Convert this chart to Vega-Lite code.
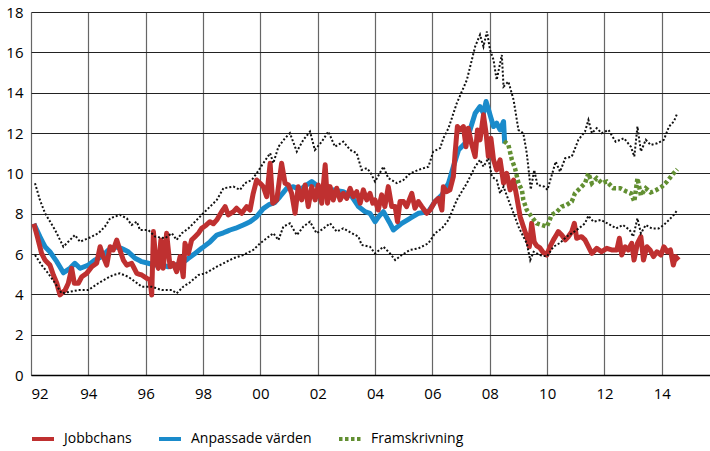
{
  "$schema": "https://vega.github.io/schema/vega-lite/v6.json",
  "width": 679,
  "height": 363,
  "autosize": {"type": "none"},
  "padding": {"left": 31, "top": 12, "right": 0, "bottom": 76},
  "datasets": {
    "series": [
      {"s":"Anpassade värden","t":1992.1,"v":7.5},{"s":"Anpassade värden","t":1992.2,"v":7.2},{"s":"Anpassade värden","t":1992.31,"v":6.86},{"s":"Anpassade värden","t":1992.49,"v":6.36},{"s":"Anpassade värden","t":1992.66,"v":6.11},{"s":"Anpassade värden","t":1992.9,"v":5.62},{"s":"Anpassade värden","t":1993.13,"v":5.07},{"s":"Anpassade värden","t":1993.36,"v":5.29},{"s":"Anpassade värden","t":1993.53,"v":5.54},{"s":"Anpassade värden","t":1993.71,"v":5.29},{"s":"Anpassade värden","t":1994.0,"v":5.45},{"s":"Anpassade värden","t":1994.23,"v":5.7},{"s":"Anpassade värden","t":1994.47,"v":5.87},{"s":"Anpassade värden","t":1994.7,"v":6.2},{"s":"Anpassade värden","t":1994.93,"v":6.36},{"s":"Anpassade värden","t":1995.16,"v":6.28},{"s":"Anpassade värden","t":1995.39,"v":6.11},{"s":"Anpassade värden","t":1995.63,"v":5.79},{"s":"Anpassade värden","t":1995.86,"v":5.62},{"s":"Anpassade värden","t":1996.09,"v":5.54},{"s":"Anpassade värden","t":1996.33,"v":5.45},{"s":"Anpassade värden","t":1996.56,"v":5.45},{"s":"Anpassade värden","t":1996.79,"v":5.37},{"s":"Anpassade värden","t":1997.02,"v":5.45},{"s":"Anpassade värden","t":1997.26,"v":5.54},{"s":"Anpassade värden","t":1997.49,"v":5.79},{"s":"Anpassade värden","t":1997.72,"v":6.03},{"s":"Anpassade värden","t":1997.95,"v":6.28},{"s":"Anpassade värden","t":1998.24,"v":6.6},{"s":"Anpassade värden","t":1998.48,"v":6.94},{"s":"Anpassade värden","t":1998.71,"v":7.05},{"s":"Anpassade värden","t":1998.94,"v":7.19},{"s":"Anpassade värden","t":1999.17,"v":7.3},{"s":"Anpassade värden","t":1999.4,"v":7.44},{"s":"Anpassade värden","t":1999.64,"v":7.6},{"s":"Anpassade värden","t":1999.87,"v":7.85},{"s":"Anpassade värden","t":2000.1,"v":8.25},{"s":"Anpassade värden","t":2000.3,"v":8.45},{"s":"Anpassade värden","t":2000.5,"v":8.55},{"s":"Anpassade värden","t":2000.68,"v":8.84},{"s":"Anpassade värden","t":2000.92,"v":9.26},{"s":"Anpassade värden","t":2001.15,"v":9.34},{"s":"Anpassade värden","t":2001.38,"v":9.18},{"s":"Anpassade värden","t":2001.61,"v":9.42},{"s":"Anpassade värden","t":2001.79,"v":9.59},{"s":"Anpassade värden","t":2002.02,"v":9.34},{"s":"Anpassade värden","t":2002.31,"v":9.01},{"s":"Anpassade värden","t":2002.54,"v":9.18},{"s":"Anpassade värden","t":2002.89,"v":9.09},{"s":"Anpassade värden","t":2003.19,"v":8.84},{"s":"Anpassade värden","t":2003.42,"v":8.35},{"s":"Anpassade värden","t":2003.65,"v":8.1},{"s":"Anpassade värden","t":2003.82,"v":8.02},{"s":"Anpassade värden","t":2004.0,"v":7.6},{"s":"Anpassade värden","t":2004.15,"v":7.9},{"s":"Anpassade värden","t":2004.29,"v":8.1},{"s":"Anpassade värden","t":2004.52,"v":7.52},{"s":"Anpassade värden","t":2004.64,"v":7.19},{"s":"Anpassade värden","t":2004.93,"v":7.52},{"s":"Anpassade värden","t":2005.22,"v":7.77},{"s":"Anpassade värden","t":2005.51,"v":8.02},{"s":"Anpassade värden","t":2005.86,"v":8.1},{"s":"Anpassade värden","t":2006.09,"v":8.6},{"s":"Anpassade värden","t":2006.33,"v":8.93},{"s":"Anpassade värden","t":2006.56,"v":9.51},{"s":"Anpassade värden","t":2006.73,"v":10.33},{"s":"Anpassade värden","t":2006.91,"v":11.16},{"s":"Anpassade värden","t":2007.14,"v":11.49},{"s":"Anpassade värden","t":2007.31,"v":12.15},{"s":"Anpassade värden","t":2007.49,"v":12.98},{"s":"Anpassade värden","t":2007.66,"v":13.31},{"s":"Anpassade värden","t":2007.78,"v":12.98},{"s":"Anpassade värden","t":2007.87,"v":13.56},{"s":"Anpassade värden","t":2008.01,"v":12.9},{"s":"Anpassade värden","t":2008.13,"v":12.32},{"s":"Anpassade värden","t":2008.24,"v":12.49},{"s":"Anpassade värden","t":2008.36,"v":12.15},{"s":"Anpassade värden","t":2008.48,"v":12.57},{"s":"Anpassade värden","t":2008.52,"v":11.49},
      {"s":"Jobbchans","t":1992.1,"v":7.5},{"s":"Jobbchans","t":1992.25,"v":6.7},{"s":"Jobbchans","t":1992.37,"v":6.03},{"s":"Jobbchans","t":1992.49,"v":5.7},{"s":"Jobbchans","t":1992.66,"v":5.45},{"s":"Jobbchans","t":1992.78,"v":4.96},{"s":"Jobbchans","t":1992.9,"v":4.55},{"s":"Jobbchans","t":1993.01,"v":3.97},{"s":"Jobbchans","t":1993.19,"v":4.21},{"s":"Jobbchans","t":1993.3,"v":4.55},{"s":"Jobbchans","t":1993.42,"v":5.29},{"s":"Jobbchans","t":1993.51,"v":4.55},{"s":"Jobbchans","t":1993.65,"v":4.55},{"s":"Jobbchans","t":1993.77,"v":4.87},{"s":"Jobbchans","t":1993.94,"v":5.04},{"s":"Jobbchans","t":1994.12,"v":5.37},{"s":"Jobbchans","t":1994.29,"v":5.54},{"s":"Jobbchans","t":1994.41,"v":6.36},{"s":"Jobbchans","t":1994.52,"v":5.87},{"s":"Jobbchans","t":1994.64,"v":5.45},{"s":"Jobbchans","t":1994.76,"v":6.36},{"s":"Jobbchans","t":1994.87,"v":6.2},{"s":"Jobbchans","t":1994.99,"v":6.69},{"s":"Jobbchans","t":1995.1,"v":6.2},{"s":"Jobbchans","t":1995.22,"v":5.7},{"s":"Jobbchans","t":1995.34,"v":5.45},{"s":"Jobbchans","t":1995.51,"v":5.54},{"s":"Jobbchans","t":1995.69,"v":5.04},{"s":"Jobbchans","t":1995.86,"v":4.96},{"s":"Jobbchans","t":1996.04,"v":4.79},{"s":"Jobbchans","t":1996.15,"v":4.71},{"s":"Jobbchans","t":1996.21,"v":3.97},{"s":"Jobbchans","t":1996.27,"v":7.11},{"s":"Jobbchans","t":1996.35,"v":5.7},{"s":"Jobbchans","t":1996.44,"v":5.29},{"s":"Jobbchans","t":1996.53,"v":6.69},{"s":"Jobbchans","t":1996.61,"v":5.29},{"s":"Jobbchans","t":1996.73,"v":7.03},{"s":"Jobbchans","t":1996.85,"v":5.37},{"s":"Jobbchans","t":1996.96,"v":5.54},{"s":"Jobbchans","t":1997.08,"v":5.12},{"s":"Jobbchans","t":1997.2,"v":5.87},{"s":"Jobbchans","t":1997.31,"v":4.87},{"s":"Jobbchans","t":1997.37,"v":6.53},{"s":"Jobbchans","t":1997.49,"v":6.03},{"s":"Jobbchans","t":1997.6,"v":6.69},{"s":"Jobbchans","t":1997.72,"v":6.86},{"s":"Jobbchans","t":1997.84,"v":7.03},{"s":"Jobbchans","t":1997.95,"v":7.27},{"s":"Jobbchans","t":1998.08,"v":7.4},{"s":"Jobbchans","t":1998.24,"v":7.6},{"s":"Jobbchans","t":1998.36,"v":7.5},{"s":"Jobbchans","t":1998.48,"v":7.69},{"s":"Jobbchans","t":1998.65,"v":8.1},{"s":"Jobbchans","t":1998.77,"v":8.35},{"s":"Jobbchans","t":1998.88,"v":7.94},{"s":"Jobbchans","t":1999.06,"v":8.1},{"s":"Jobbchans","t":1999.17,"v":8.27},{"s":"Jobbchans","t":1999.35,"v":8.02},{"s":"Jobbchans","t":1999.52,"v":8.35},{"s":"Jobbchans","t":1999.64,"v":8.18},{"s":"Jobbchans","t":1999.75,"v":9.01},{"s":"Jobbchans","t":1999.87,"v":9.67},{"s":"Jobbchans","t":1999.99,"v":9.51},{"s":"Jobbchans","t":2000.1,"v":9.34},{"s":"Jobbchans","t":2000.22,"v":8.84},{"s":"Jobbchans","t":2000.34,"v":10.5},{"s":"Jobbchans","t":2000.43,"v":8.52},{"s":"Jobbchans","t":2000.57,"v":8.68},{"s":"Jobbchans","t":2000.74,"v":10.5},{"s":"Jobbchans","t":2000.86,"v":9.51},{"s":"Jobbchans","t":2000.98,"v":9.42},{"s":"Jobbchans","t":2001.09,"v":9.01},{"s":"Jobbchans","t":2001.21,"v":8.02},{"s":"Jobbchans","t":2001.32,"v":9.34},{"s":"Jobbchans","t":2001.44,"v":8.68},{"s":"Jobbchans","t":2001.56,"v":9.42},{"s":"Jobbchans","t":2001.67,"v":8.35},{"s":"Jobbchans","t":2001.79,"v":9.34},{"s":"Jobbchans","t":2001.91,"v":8.68},{"s":"Jobbchans","t":2002.02,"v":9.42},{"s":"Jobbchans","t":2002.14,"v":8.52},{"s":"Jobbchans","t":2002.26,"v":10.42},{"s":"Jobbchans","t":2002.34,"v":8.52},{"s":"Jobbchans","t":2002.43,"v":9.34},{"s":"Jobbchans","t":2002.54,"v":8.68},{"s":"Jobbchans","t":2002.66,"v":9.26},{"s":"Jobbchans","t":2002.78,"v":8.68},{"s":"Jobbchans","t":2002.89,"v":9.01},{"s":"Jobbchans","t":2003.01,"v":8.76},{"s":"Jobbchans","t":2003.13,"v":9.26},{"s":"Jobbchans","t":2003.24,"v":8.84},{"s":"Jobbchans","t":2003.36,"v":9.09},{"s":"Jobbchans","t":2003.48,"v":8.52},{"s":"Jobbchans","t":2003.59,"v":9.18},{"s":"Jobbchans","t":2003.71,"v":8.68},{"s":"Jobbchans","t":2003.82,"v":9.01},{"s":"Jobbchans","t":2003.92,"v":8.52},{"s":"Jobbchans","t":2004.0,"v":8.68},{"s":"Jobbchans","t":2004.11,"v":8.18},{"s":"Jobbchans","t":2004.23,"v":8.93},{"s":"Jobbchans","t":2004.34,"v":8.35},{"s":"Jobbchans","t":2004.46,"v":9.34},{"s":"Jobbchans","t":2004.58,"v":8.35},{"s":"Jobbchans","t":2004.7,"v":8.35},{"s":"Jobbchans","t":2004.78,"v":7.6},{"s":"Jobbchans","t":2004.87,"v":8.6},{"s":"Jobbchans","t":2004.99,"v":8.6},{"s":"Jobbchans","t":2005.1,"v":8.35},{"s":"Jobbchans","t":2005.28,"v":9.01},{"s":"Jobbchans","t":2005.39,"v":8.27},{"s":"Jobbchans","t":2005.51,"v":8.6},{"s":"Jobbchans","t":2005.63,"v":8.35},{"s":"Jobbchans","t":2005.8,"v":8.02},{"s":"Jobbchans","t":2005.92,"v":8.18},{"s":"Jobbchans","t":2006.09,"v":8.6},{"s":"Jobbchans","t":2006.21,"v":8.76},{"s":"Jobbchans","t":2006.33,"v":8.18},{"s":"Jobbchans","t":2006.38,"v":9.34},{"s":"Jobbchans","t":2006.5,"v":9.09},{"s":"Jobbchans","t":2006.61,"v":9.18},{"s":"Jobbchans","t":2006.73,"v":9.84},{"s":"Jobbchans","t":2006.79,"v":11.0},{"s":"Jobbchans","t":2006.87,"v":12.32},{"s":"Jobbchans","t":2006.96,"v":12.15},{"s":"Jobbchans","t":2007.08,"v":12.32},{"s":"Jobbchans","t":2007.17,"v":11.32},{"s":"Jobbchans","t":2007.25,"v":12.24},{"s":"Jobbchans","t":2007.36,"v":11.49},{"s":"Jobbchans","t":2007.49,"v":10.83},{"s":"Jobbchans","t":2007.57,"v":12.15},{"s":"Jobbchans","t":2007.66,"v":11.66},{"s":"Jobbchans","t":2007.78,"v":12.9},{"s":"Jobbchans","t":2007.87,"v":11.99},{"s":"Jobbchans","t":2007.95,"v":10.83},{"s":"Jobbchans","t":2008.04,"v":11.74},{"s":"Jobbchans","t":2008.13,"v":10.67},{"s":"Jobbchans","t":2008.24,"v":10.17},{"s":"Jobbchans","t":2008.36,"v":10.67},{"s":"Jobbchans","t":2008.48,"v":9.51},{"s":"Jobbchans","t":2008.59,"v":10.0},{"s":"Jobbchans","t":2008.71,"v":9.18},{"s":"Jobbchans","t":2008.83,"v":9.67},{"s":"Jobbchans","t":2008.94,"v":8.84},{"s":"Jobbchans","t":2009.06,"v":7.85},{"s":"Jobbchans","t":2009.17,"v":7.36},{"s":"Jobbchans","t":2009.29,"v":6.86},{"s":"Jobbchans","t":2009.38,"v":6.36},{"s":"Jobbchans","t":2009.46,"v":7.52},{"s":"Jobbchans","t":2009.55,"v":6.6},{"s":"Jobbchans","t":2009.64,"v":6.4},{"s":"Jobbchans","t":2009.75,"v":6.3},{"s":"Jobbchans","t":2009.85,"v":6.1},{"s":"Jobbchans","t":2009.99,"v":5.95},{"s":"Jobbchans","t":2010.1,"v":6.36},{"s":"Jobbchans","t":2010.22,"v":6.7},{"s":"Jobbchans","t":2010.39,"v":7.11},{"s":"Jobbchans","t":2010.51,"v":6.94},{"s":"Jobbchans","t":2010.63,"v":6.7},{"s":"Jobbchans","t":2010.74,"v":6.86},{"s":"Jobbchans","t":2010.86,"v":7.11},{"s":"Jobbchans","t":2010.95,"v":7.52},{"s":"Jobbchans","t":2011.03,"v":6.78},{"s":"Jobbchans","t":2011.2,"v":6.86},{"s":"Jobbchans","t":2011.32,"v":6.7},{"s":"Jobbchans","t":2011.44,"v":6.36},{"s":"Jobbchans","t":2011.56,"v":6.03},{"s":"Jobbchans","t":2011.73,"v":6.28},{"s":"Jobbchans","t":2011.9,"v":6.11},{"s":"Jobbchans","t":2012.08,"v":6.28},{"s":"Jobbchans","t":2012.25,"v":6.2},{"s":"Jobbchans","t":2012.43,"v":6.2},{"s":"Jobbchans","t":2012.52,"v":6.78},{"s":"Jobbchans","t":2012.6,"v":5.95},{"s":"Jobbchans","t":2012.72,"v":6.36},{"s":"Jobbchans","t":2012.83,"v":6.2},{"s":"Jobbchans","t":2012.95,"v":6.53},{"s":"Jobbchans","t":2013.03,"v":5.7},{"s":"Jobbchans","t":2013.15,"v":6.53},{"s":"Jobbchans","t":2013.27,"v":6.86},{"s":"Jobbchans","t":2013.36,"v":5.7},{"s":"Jobbchans","t":2013.48,"v":6.36},{"s":"Jobbchans","t":2013.59,"v":6.2},{"s":"Jobbchans","t":2013.71,"v":5.87},{"s":"Jobbchans","t":2013.83,"v":6.11},{"s":"Jobbchans","t":2013.97,"v":5.95},{"s":"Jobbchans","t":2014.07,"v":6.36},{"s":"Jobbchans","t":2014.19,"v":6.11},{"s":"Jobbchans","t":2014.3,"v":6.2},{"s":"Jobbchans","t":2014.4,"v":5.45},{"s":"Jobbchans","t":2014.48,"v":5.87},{"s":"Jobbchans","t":2014.59,"v":5.7},
      {"s":"Framskrivning","t":2008.5,"v":11.6},{"s":"Framskrivning","t":2008.65,"v":11.41},{"s":"Framskrivning","t":2008.77,"v":10.67},{"s":"Framskrivning","t":2008.88,"v":10.25},{"s":"Framskrivning","t":2009.0,"v":9.51},{"s":"Framskrivning","t":2009.12,"v":9.18},{"s":"Framskrivning","t":2009.17,"v":8.68},{"s":"Framskrivning","t":2009.29,"v":8.18},{"s":"Framskrivning","t":2009.46,"v":7.85},{"s":"Framskrivning","t":2009.64,"v":7.52},{"s":"Framskrivning","t":2009.81,"v":7.44},{"s":"Framskrivning","t":2009.99,"v":7.36},{"s":"Framskrivning","t":2010.16,"v":7.94},{"s":"Framskrivning","t":2010.34,"v":8.1},{"s":"Framskrivning","t":2010.51,"v":8.35},{"s":"Framskrivning","t":2010.68,"v":8.43},{"s":"Framskrivning","t":2010.86,"v":8.6},{"s":"Framskrivning","t":2010.97,"v":9.01},{"s":"Framskrivning","t":2011.15,"v":9.26},{"s":"Framskrivning","t":2011.32,"v":9.51},{"s":"Framskrivning","t":2011.44,"v":10.0},{"s":"Framskrivning","t":2011.56,"v":9.51},{"s":"Framskrivning","t":2011.73,"v":9.76},{"s":"Framskrivning","t":2011.91,"v":9.51},{"s":"Framskrivning","t":2012.08,"v":9.59},{"s":"Framskrivning","t":2012.31,"v":9.26},{"s":"Framskrivning","t":2012.55,"v":9.26},{"s":"Framskrivning","t":2012.78,"v":9.09},{"s":"Framskrivning","t":2012.92,"v":9.01},{"s":"Framskrivning","t":2013.04,"v":8.6},{"s":"Framskrivning","t":2013.15,"v":9.76},{"s":"Framskrivning","t":2013.27,"v":8.9},{"s":"Framskrivning","t":2013.44,"v":9.26},{"s":"Framskrivning","t":2013.61,"v":9.05},{"s":"Framskrivning","t":2013.78,"v":9.15},{"s":"Framskrivning","t":2014.0,"v":9.34},{"s":"Framskrivning","t":2014.18,"v":9.59},{"s":"Framskrivning","t":2014.36,"v":9.92},{"s":"Framskrivning","t":2014.54,"v":10.2}
    ],
    "band": [
      {"b":"upper","t":1992.14,"v":9.51},{"b":"upper","t":1992.31,"v":8.68},{"b":"upper","t":1992.49,"v":8.02},{"b":"upper","t":1992.84,"v":7.19},{"b":"upper","t":1993.13,"v":6.36},{"b":"upper","t":1993.3,"v":6.61},{"b":"upper","t":1993.53,"v":6.94},{"b":"upper","t":1993.71,"v":6.61},{"b":"upper","t":1994.0,"v":6.78},{"b":"upper","t":1994.35,"v":7.03},{"b":"upper","t":1994.58,"v":7.36},{"b":"upper","t":1994.76,"v":7.77},{"b":"upper","t":1995.1,"v":7.94},{"b":"upper","t":1995.34,"v":7.77},{"b":"upper","t":1995.51,"v":7.44},{"b":"upper","t":1995.69,"v":7.6},{"b":"upper","t":1995.8,"v":7.19},{"b":"upper","t":1996.09,"v":7.19},{"b":"upper","t":1996.33,"v":6.86},{"b":"upper","t":1996.67,"v":6.78},{"b":"upper","t":1996.91,"v":7.03},{"b":"upper","t":1997.08,"v":6.7},{"b":"upper","t":1997.26,"v":7.03},{"b":"upper","t":1997.49,"v":7.27},{"b":"upper","t":1997.72,"v":7.6},{"b":"upper","t":1998.01,"v":8.02},{"b":"upper","t":1998.48,"v":8.68},{"b":"upper","t":1998.71,"v":9.26},{"b":"upper","t":1999.06,"v":9.34},{"b":"upper","t":1999.29,"v":9.18},{"b":"upper","t":1999.46,"v":9.51},{"b":"upper","t":1999.7,"v":9.67},{"b":"upper","t":1999.87,"v":10.0},{"b":"upper","t":2000.1,"v":10.5},{"b":"upper","t":2000.34,"v":11.0},{"b":"upper","t":2000.45,"v":10.5},{"b":"upper","t":2000.63,"v":11.32},{"b":"upper","t":2000.86,"v":11.74},{"b":"upper","t":2001.03,"v":11.99},{"b":"upper","t":2001.27,"v":11.08},{"b":"upper","t":2001.5,"v":11.66},{"b":"upper","t":2001.73,"v":12.07},{"b":"upper","t":2001.9,"v":11.16},{"b":"upper","t":2002.14,"v":11.57},{"b":"upper","t":2002.37,"v":12.07},{"b":"upper","t":2002.6,"v":11.32},{"b":"upper","t":2002.89,"v":11.57},{"b":"upper","t":2003.13,"v":11.16},{"b":"upper","t":2003.36,"v":11.0},{"b":"upper","t":2003.53,"v":10.17},{"b":"upper","t":2003.71,"v":10.25},{"b":"upper","t":2003.82,"v":10.08},{"b":"upper","t":2004.0,"v":9.59},{"b":"upper","t":2004.29,"v":10.33},{"b":"upper","t":2004.46,"v":9.76},{"b":"upper","t":2004.76,"v":9.51},{"b":"upper","t":2004.99,"v":9.67},{"b":"upper","t":2005.22,"v":10.0},{"b":"upper","t":2005.51,"v":10.17},{"b":"upper","t":2005.86,"v":10.33},{"b":"upper","t":2006.03,"v":11.08},{"b":"upper","t":2006.27,"v":11.25},{"b":"upper","t":2006.38,"v":11.74},{"b":"upper","t":2006.56,"v":12.24},{"b":"upper","t":2006.85,"v":13.48},{"b":"upper","t":2007.2,"v":14.63},{"b":"upper","t":2007.49,"v":16.29},{"b":"upper","t":2007.66,"v":16.87},{"b":"upper","t":2007.78,"v":16.29},{"b":"upper","t":2007.9,"v":17.03},{"b":"upper","t":2008.01,"v":16.12},{"b":"upper","t":2008.13,"v":15.63},{"b":"upper","t":2008.24,"v":14.63},{"b":"upper","t":2008.42,"v":15.87},{"b":"upper","t":2008.48,"v":14.3},{"b":"upper","t":2008.65,"v":14.55},{"b":"upper","t":2008.83,"v":13.64},{"b":"upper","t":2009.0,"v":12.15},{"b":"upper","t":2009.17,"v":11.99},{"b":"upper","t":2009.29,"v":11.0},{"b":"upper","t":2009.43,"v":9.2},{"b":"upper","t":2009.55,"v":10.17},{"b":"upper","t":2009.66,"v":9.42},{"b":"upper","t":2009.9,"v":9.34},{"b":"upper","t":2010.01,"v":9.18},{"b":"upper","t":2010.3,"v":10.58},{"b":"upper","t":2010.45,"v":10.08},{"b":"upper","t":2010.63,"v":10.75},{"b":"upper","t":2010.86,"v":10.83},{"b":"upper","t":2011.09,"v":11.66},{"b":"upper","t":2011.32,"v":12.07},{"b":"upper","t":2011.44,"v":12.65},{"b":"upper","t":2011.56,"v":11.99},{"b":"upper","t":2011.73,"v":12.24},{"b":"upper","t":2011.9,"v":11.99},{"b":"upper","t":2012.14,"v":12.15},{"b":"upper","t":2012.39,"v":11.57},{"b":"upper","t":2012.68,"v":11.74},{"b":"upper","t":2012.92,"v":11.32},{"b":"upper","t":2013.04,"v":10.83},{"b":"upper","t":2013.15,"v":12.32},{"b":"upper","t":2013.27,"v":11.08},{"b":"upper","t":2013.44,"v":11.66},{"b":"upper","t":2013.61,"v":11.41},{"b":"upper","t":2013.84,"v":11.49},{"b":"upper","t":2014.07,"v":11.66},{"b":"upper","t":2014.25,"v":12.32},{"b":"upper","t":2014.42,"v":12.57},{"b":"upper","t":2014.54,"v":12.98},
      {"b":"lower","t":1992.14,"v":5.95},{"b":"lower","t":1992.37,"v":5.45},{"b":"lower","t":1992.6,"v":5.04},{"b":"lower","t":1992.84,"v":4.55},{"b":"lower","t":1993.07,"v":4.05},{"b":"lower","t":1993.36,"v":4.13},{"b":"lower","t":1993.65,"v":4.21},{"b":"lower","t":1994.0,"v":4.21},{"b":"lower","t":1994.35,"v":4.55},{"b":"lower","t":1994.64,"v":4.79},{"b":"lower","t":1994.87,"v":4.96},{"b":"lower","t":1995.1,"v":5.04},{"b":"lower","t":1995.39,"v":4.87},{"b":"lower","t":1995.63,"v":4.63},{"b":"lower","t":1995.86,"v":4.38},{"b":"lower","t":1996.21,"v":4.38},{"b":"lower","t":1996.56,"v":4.21},{"b":"lower","t":1996.91,"v":4.21},{"b":"lower","t":1997.08,"v":4.05},{"b":"lower","t":1997.31,"v":4.38},{"b":"lower","t":1997.55,"v":4.6},{"b":"lower","t":1997.84,"v":4.96},{"b":"lower","t":1998.07,"v":5.04},{"b":"lower","t":1998.48,"v":5.37},{"b":"lower","t":1999.06,"v":5.79},{"b":"lower","t":1999.4,"v":5.95},{"b":"lower","t":1999.75,"v":6.2},{"b":"lower","t":1999.99,"v":6.53},{"b":"lower","t":2000.22,"v":6.78},{"b":"lower","t":2000.45,"v":7.03},{"b":"lower","t":2000.63,"v":6.69},{"b":"lower","t":2000.8,"v":7.36},{"b":"lower","t":2001.03,"v":7.52},{"b":"lower","t":2001.27,"v":6.94},{"b":"lower","t":2001.5,"v":7.36},{"b":"lower","t":2001.73,"v":7.6},{"b":"lower","t":2001.96,"v":7.03},{"b":"lower","t":2002.2,"v":7.27},{"b":"lower","t":2002.43,"v":7.52},{"b":"lower","t":2002.66,"v":7.11},{"b":"lower","t":2002.89,"v":7.27},{"b":"lower","t":2003.19,"v":7.03},{"b":"lower","t":2003.42,"v":6.86},{"b":"lower","t":2003.53,"v":6.45},{"b":"lower","t":2003.82,"v":6.36},{"b":"lower","t":2004.0,"v":6.03},{"b":"lower","t":2004.29,"v":6.36},{"b":"lower","t":2004.52,"v":6.03},{"b":"lower","t":2004.7,"v":5.7},{"b":"lower","t":2004.93,"v":5.95},{"b":"lower","t":2005.22,"v":6.2},{"b":"lower","t":2005.51,"v":6.28},{"b":"lower","t":2005.86,"v":6.53},{"b":"lower","t":2006.09,"v":7.03},{"b":"lower","t":2006.33,"v":7.27},{"b":"lower","t":2006.56,"v":7.69},{"b":"lower","t":2006.85,"v":8.68},{"b":"lower","t":2007.2,"v":9.51},{"b":"lower","t":2007.49,"v":10.33},{"b":"lower","t":2007.66,"v":10.67},{"b":"lower","t":2007.78,"v":10.33},{"b":"lower","t":2007.95,"v":10.75},{"b":"lower","t":2008.07,"v":9.84},{"b":"lower","t":2008.24,"v":9.67},{"b":"lower","t":2008.36,"v":9.01},{"b":"lower","t":2008.48,"v":9.34},{"b":"lower","t":2008.65,"v":8.68},{"b":"lower","t":2008.83,"v":8.02},{"b":"lower","t":2009.0,"v":7.36},{"b":"lower","t":2009.17,"v":6.86},{"b":"lower","t":2009.29,"v":6.53},{"b":"lower","t":2009.41,"v":5.7},{"b":"lower","t":2009.53,"v":6.11},{"b":"lower","t":2009.75,"v":5.95},{"b":"lower","t":2009.99,"v":5.87},{"b":"lower","t":2010.22,"v":6.36},{"b":"lower","t":2010.45,"v":6.55},{"b":"lower","t":2010.68,"v":6.86},{"b":"lower","t":2010.92,"v":7.08},{"b":"lower","t":2011.15,"v":7.32},{"b":"lower","t":2011.32,"v":7.52},{"b":"lower","t":2011.44,"v":7.9},{"b":"lower","t":2011.61,"v":7.6},{"b":"lower","t":2011.88,"v":7.69},{"b":"lower","t":2012.15,"v":7.48},{"b":"lower","t":2012.41,"v":7.27},{"b":"lower","t":2012.64,"v":7.44},{"b":"lower","t":2012.88,"v":7.19},{"b":"lower","t":2013.0,"v":6.86},{"b":"lower","t":2013.15,"v":7.77},{"b":"lower","t":2013.27,"v":7.03},{"b":"lower","t":2013.44,"v":7.44},{"b":"lower","t":2013.65,"v":7.27},{"b":"lower","t":2013.89,"v":7.27},{"b":"lower","t":2014.07,"v":7.44},{"b":"lower","t":2014.25,"v":7.69},{"b":"lower","t":2014.42,"v":7.94},{"b":"lower","t":2014.54,"v":8.18}
    ]
  },
  "encoding": {
    "x": {"field": "t", "type": "quantitative",
      "scale": {"domain": [1992, 2015.68], "nice": false, "zero": false},
      "axis": {"values": [1992,1994,1996,1998,2000,2002,2004,2006,2008,2010,2012,2014],
        "labelExpr": "substring(toString(datum.value), 2)", "title": null,
        "grid": true, "gridColor": "#666666", "gridWidth": 1.2, "gridOpacity": 1,
        "ticks": false, "domainColor": "#000000", "domainWidth": 1.5,
        "labelFontSize": 15, "labelPadding": 11, "labelColor": "#000000", "labelFont": "Open Sans"}},
    "y": {"field": "v", "type": "quantitative",
      "scale": {"domain": [0, 18], "nice": false},
      "axis": {"values": [0,2,4,6,8,10,12,14,16,18], "title": null,
        "grid": true, "gridColor": "#222222", "gridWidth": 1.1, "gridOpacity": 1,
        "domain": false, "ticks": false,
        "labelFontSize": 15, "labelPadding": 8, "labelColor": "#000000", "labelFont": "Open Sans"}}
  },
  "layer": [
    {"data": {"name": "series"}, "transform": [{"filter": "datum.s === 'Anpassade värden'"}],
     "mark": {"type": "line", "strokeWidth": 5, "strokeJoin": "round"},
     "encoding": {
       "color": {"field": "s", "type": "nominal", "scale": {"domain": ["Jobbchans","Anpassade värden","Framskrivning"], "range": ["#bf3030","#1a8bcb","#628f32"]}, "title": null},
       "strokeDash": {"field": "s", "type": "nominal", "scale": {"domain": ["Jobbchans","Anpassade värden","Framskrivning"], "range": [[10,0],[10,0],[3.5,2.5]]}, "title": null}}},
    {"data": {"name": "series"}, "transform": [{"filter": "datum.s === 'Jobbchans'"}],
     "mark": {"type": "line", "strokeWidth": 5, "strokeJoin": "round"},
     "encoding": {
       "color": {"field": "s", "type": "nominal", "title": null},
       "strokeDash": {"field": "s", "type": "nominal", "title": null}}},
    {"data": {"name": "series"}, "transform": [{"filter": "datum.s === 'Framskrivning'"}],
     "mark": {"type": "line", "strokeWidth": 4.5},
     "encoding": {
       "color": {"field": "s", "type": "nominal", "title": null},
       "strokeDash": {"field": "s", "type": "nominal", "title": null}}},
    {"data": {"name": "band"},
     "mark": {"type": "line", "strokeWidth": 2, "strokeDash": [2, 2], "color": "#111111"},
     "encoding": {"detail": {"field": "b", "type": "nominal"}}}
  ],
  "resolve": {"scale": {"color": "shared", "strokeDash": "shared"}},
  "config": {
    "view": {"stroke": null},
    "font": "Open Sans",
    "legend": {"orient": "none", "legendX": -1, "legendY": 414, "direction": "horizontal",
      "symbolType": "stroke", "symbolStrokeWidth": 4, "symbolSize": 484,
      "labelFontSize": 14, "labelFont": "Open Sans", "labelColor": "#000000", "labelOffset": 8,
      "columnPadding": 19, "padding": 0, "titlePadding": 0}
  }
}
